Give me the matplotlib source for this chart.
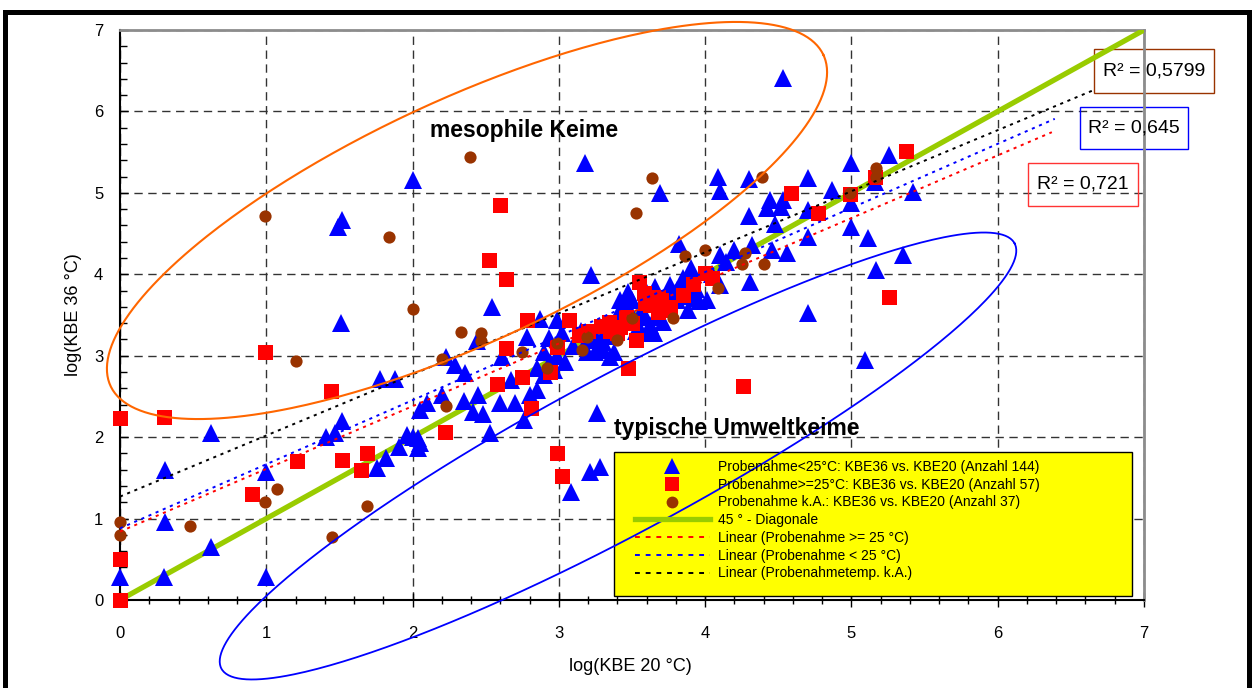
import numpy as np
import matplotlib
matplotlib.use("Agg")
import matplotlib.pyplot as plt
from matplotlib import font_manager
from matplotlib.lines import Line2D
from matplotlib.patches import Rectangle
from matplotlib.ticker import MultipleLocator

# ---- values (log10 KBE) ----
# Probenahme < 25 C (blue triangles)
tri_x = [0, 0.3, 0.62, 0.31, 0.31, 0.62, 1.0, 1.0, 1.41, 1.47,
         1.52, 1.76, 1.82, 1.91, 1.96, 2.04, 2.04, 2.1, 2.0, 1.52,
         1.49, 1.51, 1.78, 1.88, 2.23, 2.05, 2.2, 2.0, 2.05, 2.54,
         2.87, 2.78, 2.99, 3.02, 2.93, 2.44, 2.61, 2.29, 2.36, 2.45,
         2.41, 2.48, 2.6, 2.7, 2.67, 2.85, 2.85, 2.8, 2.76, 2.53,
         2.94, 3.04, 2.97, 2.99, 3.19, 3.26, 3.3, 3.19, 3.3, 3.35,
         2.9, 3.18, 3.22, 3.82, 3.69, 4.09, 4.1, 4.3, 4.3, 4.44,
         4.42, 4.52, 4.53, 4.32, 4.46, 4.56, 4.1, 4.14, 3.9, 3.84,
         3.76, 3.66, 3.47, 3.45, 3.6, 3.94, 4.01, 3.88, 3.79, 3.57,
         3.62, 3.55, 4.31, 3.42, 3.42, 3.5, 3.47, 3.81, 3.9, 3.81,
         3.96, 3.94, 3.32, 4.1, 3.34, 3.38, 3.25, 3.65, 3.62, 3.67,
         3.58, 3.71, 3.53, 4.7, 4.7, 4.87, 5.0, 5.0, 5.26, 5.42,
         5.0, 5.11, 5.35, 5.17, 4.7, 5.09, 4.7, 5.16, 4.53, 3.26,
         3.21, 3.28, 3.08, 3.1, 3.15, 2.9, 3.4, 3.72, 3.85, 4.05,
         2.35, 3.5, 4.2, 4.48]
tri_y = [0.28, 0.28, 0.65, 0.96, 1.6, 2.05, 0.28, 1.57, 2.0, 2.05,
         2.2, 1.62, 1.74, 1.88, 2.03, 1.99, 1.87, 2.42, 5.16, 4.67,
         4.58, 3.4, 2.72, 2.72, 2.98, 2.33, 2.52, 2.0, 1.93, 3.6,
         3.45, 3.23, 3.44, 3.28, 3.22, 3.18, 2.98, 2.89, 2.79, 2.52,
         2.31, 2.29, 2.42, 2.42, 2.7, 2.85, 2.58, 2.52, 2.21, 2.05,
         2.92, 2.92, 2.82, 3.0, 3.19, 3.19, 3.17, 3.05, 3.07, 2.99,
         2.76, 5.37, 3.99, 4.37, 5.0, 5.19, 5.02, 5.17, 4.72, 4.91,
         4.81, 4.83, 4.91, 4.36, 4.3, 4.26, 4.24, 4.15, 4.08, 3.87,
         3.87, 3.84, 3.78, 3.68, 3.77, 3.71, 3.68, 3.56, 3.77, 3.56,
         3.28, 3.35, 3.9, 3.56, 3.68, 3.68, 3.56, 3.81, 3.73, 3.68,
         3.67, 3.82, 3.32, 3.87, 3.24, 3.05, 3.05, 3.28, 3.38, 3.48,
         3.48, 3.42, 3.3, 5.18, 4.79, 5.03, 5.37, 4.88, 5.47, 5.01,
         4.58, 4.44, 4.24, 4.05, 3.52, 2.95, 4.46, 5.13, 6.41, 2.3,
         1.57, 1.63, 1.33, 3.12, 3.3, 3.05, 3.45, 3.62, 3.95, 4.0,
         2.45, 3.5, 4.3, 4.62]

# Probenahme >= 25 C (red squares)
sq_x = [0, 0, 0, 0.3, 0.99, 0.9, 1.21, 1.44, 1.52, 1.65,
        1.69, 2.22, 2.6, 2.52, 2.64, 2.78, 2.64, 2.58, 2.75, 2.81,
        2.94, 2.99, 3.07, 3.14, 3.29, 3.34, 3.4, 3.46, 3.53, 3.47,
        2.99, 3.02, 3.55, 3.58, 3.68, 3.76, 3.68, 3.92, 4.0, 4.59,
        4.26, 3.59, 3.7, 3.72, 3.42, 3.4, 5.37, 5.16, 4.99, 4.77,
        5.26, 3.62, 3.5, 3.2, 4.05, 3.85, 3.35]
sq_y = [0, 0.5, 2.24, 2.25, 3.05, 1.3, 1.71, 2.57, 1.72, 1.6,
        1.8, 2.06, 4.85, 4.18, 3.94, 3.44, 3.09, 2.65, 2.74, 2.36,
        2.8, 3.11, 3.44, 3.26, 3.37, 3.42, 3.32, 3.48, 3.19, 2.85,
        1.8, 1.52, 3.9, 3.77, 3.72, 3.6, 3.54, 3.88, 4.01, 5.0,
        2.63, 3.65, 3.68, 3.56, 3.35, 3.28, 5.51, 5.2, 4.99, 4.75,
        3.72, 3.62, 3.4, 3.3, 3.95, 3.75, 3.3]

# Probenahme k.A. (brown dots)
dot_x = [0, 0, 0.48, 0.99, 0.99, 1.07, 1.2, 1.45, 1.69, 1.84,
         2.0, 2.23, 2.2, 2.33, 2.47, 2.47, 2.75, 2.92, 2.99, 3.19,
         3.16, 2.39, 3.64, 3.53, 3.4, 3.5, 3.78, 3.86, 4.0, 4.09,
         4.27, 4.25, 4.4, 4.39, 4.99, 5.17, 5.17]
dot_y = [0.96, 0.8, 0.91, 4.72, 1.2, 1.36, 2.94, 0.77, 1.15, 4.46,
         3.57, 2.38, 2.96, 3.29, 3.28, 3.18, 3.05, 2.85, 3.16, 3.23,
         3.07, 5.44, 5.18, 4.75, 3.19, 3.46, 3.46, 4.22, 4.3, 3.83,
         4.26, 4.13, 4.13, 5.19, 5.0, 5.3, 5.2]

# Excel linear trend lines: intercept, slope, last x
trend_ge25 = (0.84, 0.77, 6.37)
trend_lt25 = (0.88, 0.787, 6.39)
trend_ka = (1.27, 0.75, 6.66)

r2_texts = ["R² = 0,5799", "R² = 0,645", "R² = 0,721"]
legend_labels = [
    "Probenahme<25°C: KBE36 vs. KBE20 (Anzahl 144)",
    "Probenahme>=25°C: KBE36 vs. KBE20 (Anzahl 57)",
    "Probenahme k.A.: KBE36 vs. KBE20 (Anzahl 37)",
    "45 ° - Diagonale",
    "Linear (Probenahme >= 25 °C)",
    "Linear (Probenahme < 25 °C)",
    "Linear (Probenahmetemp. k.A.)",
]

BLUE = "#0000FF"
RED = "#FF0000"
BROWN = "#993300"
GREEN = "#99CC00"
ORANGE = "#FF6600"


def pick_font(names):
    for n in names:
        try:
            font_manager.findfont(n, fallback_to_default=False)
            return n
        except ValueError:
            pass
    return "DejaVu Sans"


SANS = pick_font(["Liberation Sans", "Arial"])
NARROW = pick_font(["Liberation Sans Narrow", "Arial Narrow"])
narrow_ok = NARROW != "DejaVu Sans"
plt.rcParams["font.family"] = [SANS, "DejaVu Sans"]

W, H = 1252, 688
fig = plt.figure(figsize=(W / 100, H / 100), dpi=100)
ax = fig.add_axes([120 / W, 88 / H, 1024 / W, 570 / H])
ax.set_xlim(0, 7)
ax.set_ylim(0, 7)

# pixels per data unit (for the hand-drawn ellipses)
sx = 1024 / 7
sy = 570 / 7

ax.grid(True, which="major", color="#333333", linestyle=(0, (6, 4)), linewidth=1.0, zorder=0)
ax.set_axisbelow(True)
ax.xaxis.set_major_locator(MultipleLocator(1))
ax.yaxis.set_major_locator(MultipleLocator(1))
ax.xaxis.set_minor_locator(MultipleLocator(0.2))
ax.yaxis.set_minor_locator(MultipleLocator(0.2))
ax.tick_params(axis="x", which="major", direction="inout", length=10, width=1, pad=14, labelsize=12)
ax.tick_params(axis="x", which="minor", direction="inout", length=6, width=1)
ax.tick_params(axis="y", which="major", direction="in", length=6, width=1, pad=12, labelsize=12)
ax.tick_params(axis="y", which="minor", direction="in", length=5, width=1)
for s in ("left", "bottom"):
    ax.spines[s].set_color("black")
    ax.spines[s].set_linewidth(1.5)
for s in ("top", "right"):
    ax.spines[s].set_color("#8c8c8c")
    ax.spines[s].set_linewidth(2)

ax.set_xlabel("log(KBE 20 °C)", fontsize=13)
ax.set_ylabel("log(KBE 36 °C)", fontsize=13)
ax.xaxis.set_label_coords(0.498, -0.102)
ax.yaxis.set_label_coords(-0.037, 0.5)

# diagonal and trend lines
ax.plot([0, 7], [0, 7], color=GREEN, linewidth=3.8, solid_capstyle="butt", zorder=3)
dot_style = (0, (1.6, 2.4))
for (b, m, xe), col in ((trend_ge25, RED), (trend_lt25, BLUE), (trend_ka, "black")):
    xs = np.array([0, xe])
    ax.plot(xs, b + m * xs, color=col, linewidth=1.4, linestyle=dot_style, zorder=6, clip_on=False)

# scatter series
ax.plot(tri_x, tri_y, linestyle="none", marker="^", markersize=12.5, color=BLUE,
        markeredgewidth=0, zorder=4, clip_on=False)
ax.plot(sq_x, sq_y, linestyle="none", marker="s", markersize=10.8, color=RED,
        markeredgewidth=0, zorder=4.5, clip_on=False)
ax.plot(dot_x, dot_y, linestyle="none", marker="o", markersize=8.8, color=BROWN,
        markeredgewidth=0, zorder=5, clip_on=False)


def ellipse(cx, cy, a, b, ang, color, lw):
    # a, b in pixels, angle in screen space
    t = np.linspace(0, 2 * np.pi, 400)
    th = np.radians(ang)
    px = a * np.cos(t) * np.cos(th) - b * np.sin(t) * np.sin(th)
    py = a * np.cos(t) * np.sin(th) + b * np.sin(t) * np.cos(th)
    ax.plot(cx + px / sx, cy + py / sy, color=color, linewidth=lw, zorder=8, clip_on=False)


ellipse((467 - 120) / sx, (600 - 220.5) / sy, 393, 121, 24.9, ORANGE, 1.5)
ellipse((618 - 120) / sx, (600 - 456) / sy, 450, 78, 28.2, BLUE, 1.3)

# annotations
ax.text(2.12, 5.77, "mesophile Keime", fontsize=16.5, fontweight="bold", va="center", ha="left", zorder=9)
ax.text(3.38, 2.11, "typische Umweltkeime", fontsize=16.5, fontweight="bold", va="center", ha="left", zorder=9)

# R^2 boxes
r2_boxes = [((6.66, 6.23, 0.82, 0.54), BROWN), ((6.56, 5.54, 0.74, 0.51), BLUE), ((6.21, 4.84, 0.75, 0.53), "#FF3333")]
for txt, ((x0, y0, w, h), col) in zip(r2_texts, r2_boxes):
    ax.add_patch(Rectangle((x0, y0), w, h, facecolor="none", edgecolor=col, linewidth=1.0,
                           clip_on=False, zorder=1))
    ax.text(x0 + w / 2, y0 + h / 2, txt, fontsize=14, ha="center", va="center", zorder=9)

# legend: yellow box + entries
ax.add_patch(Rectangle((3.38, 0.05), 3.54, 1.77, facecolor="#FFFF00", edgecolor="black",
                       linewidth=1.0, zorder=7, clip_on=False))
handles = [
    Line2D([], [], linestyle="none", marker="^", markersize=11, color=BLUE, markeredgewidth=0),
    Line2D([], [], linestyle="none", marker="s", markersize=9.5, color=RED, markeredgewidth=0),
    Line2D([], [], linestyle="none", marker="o", markersize=8.5, color=BROWN, markeredgewidth=0),
    Line2D([], [], color=GREEN, linewidth=3.8),
    Line2D([], [], color=RED, linewidth=1.4, linestyle=(0, (2.5, 3))),
    Line2D([], [], color=BLUE, linewidth=1.4, linestyle=(0, (2.5, 3))),
    Line2D([], [], color="black", linewidth=1.4, linestyle=(0, (2.5, 3))),
]
leg_font = {"family": [NARROW, SANS], "size": 11.5} if narrow_ok else {"family": [SANS], "size": 10}
leg = ax.legend(handles, legend_labels, loc="upper left", bbox_to_anchor=(3.52, 1.72),
                bbox_transform=ax.transData, frameon=False, prop=leg_font, handlelength=5.4,
                handletextpad=0.55, labelspacing=0.27, borderpad=0, borderaxespad=0, numpoints=1)
leg.set_zorder(10)

# outer black frame of the picture
fig.patches.append(Rectangle((5 / W, -0.05), 1244 / W, 1.05 - 12 / H, transform=fig.transFigure,
                             facecolor="none", edgecolor="black", linewidth=3.6, figure=fig))

fig.savefig("out.png", dpi=100)
